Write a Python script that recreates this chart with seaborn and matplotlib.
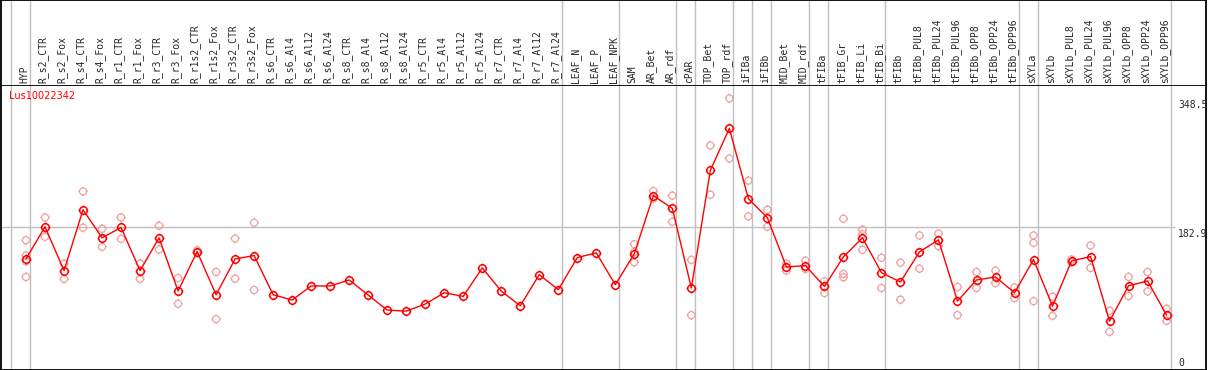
import numpy as np
import pandas as pd
import matplotlib
matplotlib.use("Agg")
import matplotlib.pyplot as plt
from matplotlib.path import Path
import seaborn as sns

gene = "Lus10022342"

categories = [
    "HYP", "R_s2_CTR", "R_s2_Fox", "R_s4_CTR", "R_s4_Fox", "R_r1_CTR", "R_r1_Fox",
    "R_r3_CTR", "R_r3_Fox", "R_r1s2_CTR", "R_r1s2_Fox", "R_r3s2_CTR", "R_r3s2_Fox",
    "R_s6_CTR", "R_s6_Al4", "R_s6_Al12", "R_s6_Al24", "R_s8_CTR", "R_s8_Al4",
    "R_s8_Al12", "R_s8_Al24", "R_r5_CTR", "R_r5_Al4", "R_r5_Al12", "R_r5_Al24",
    "R_r7_CTR", "R_r7_Al4", "R_r7_Al12", "R_r7_Al24", "LEAF_N", "LEAF_P", "LEAF_NPK",
    "SAM", "AR_Bet", "AR_rdf", "cPAR", "TOP_Bet", "TOP_rdf", "iFIBa", "iFIBb",
    "MID_Bet", "MID_rdf", "tFIBa", "tFIB_Gr", "tFIB_Li", "tFIB_Bi", "tFIBb",
    "tFIBb_PUL8", "tFIBb_PUL24", "tFIBb_PUL96", "tFIBb_OPP8", "tFIBb_OPP24",
    "tFIBb_OPP96", "sXYLa", "sXYLb", "sXYLb_PUL8", "sXYLb_PUL24", "sXYLb_PUL96",
    "sXYLb_OPP8", "sXYLb_OPP24", "sXYLb_OPP96",
]

means = [
    142.2, 183.5, 127.1, 205.4, 169.3, 182.6, 127.1, 169.3, 100.9, 151.6,
    96.1, 142.2, 146.5, 96.1, 89.3, 107.4, 107.4, 115.1, 95.7, 76.4,
    75.1, 84.1, 98.7, 94.0, 130.6, 100.9, 81.9, 121.9, 102.6, 143.9,
    149.9, 109.0, 149.0, 223.5, 207.1, 104.8, 256.1, 309.9, 219.6, 195.1,
    131.9, 133.5, 106.8, 144.8, 169.3, 124.5, 112.5, 151.2, 166.7, 88.0,
    115.1, 119.0, 98.7, 141.3, 81.5, 139.6, 145.2, 62.2, 107.7, 113.8, 69.9,
]

replicates = [
    [166.2, 146.5, 139.1, 119.0], [195.5, 170.6], [136.1, 116.4], [229.0, 182.2],
    [180.9, 157.7], [195.5, 168.0], [136.1, 116.4], [184.8, 154.2], [117.7, 84.5],
    [153.3, 150.0], [125.4, 64.8], [168.4, 116.8], [188.6, 102.2],
    [], [], [], [], [], [], [], [], [], [], [], [], [], [], [], [],
    [], [], [],
    [161.0, 151.2, 137.8], [229.4, 219.6], [223.5, 189.9], [140.9, 69.9],
    [288.0, 224.8], [348.5, 271.2], [242.8, 196.8], [205.4, 183.5],
    [136.1, 127.1], [140.0, 129.3], [113.3, 98.3], [193.8, 122.8, 118.5],
    [179.6, 174.0, 153.8], [143.5, 104.8], [137.4, 89.7],
    [172.3, 129.7], [174.8, 158.5], [106.1, 69.9], [125.4, 104.8], [127.1, 111.2],
    [105.5, 91.9], [172.3, 162.8, 88.0], [93.5, 69.0],
    [141.3, 138.0], [159.4, 130.6], [75.5, 48.4], [119.0, 94.5], [125.4, 100.4],
    [78.1, 62.6],
]

# first category of each boxed group, plus the end
group_starts = [0, 1, 29, 32, 35, 36, 38, 39, 40, 42, 43, 46, 53, 54, 61]

y_ticks = [0, 182.9, 348.5]

# ---- data frames
x = np.arange(len(categories))
df_mean = pd.DataFrame({"x": x, "value": means})
rep_x, rep_y = [], []
for i, vals in enumerate(replicates):
    for v in vals:
        rep_x.append(i)
        rep_y.append(v)
df_rep = pd.DataFrame({"x": rep_x, "value": rep_y})

sns.set_theme(style="white")
plt.rcParams["font.family"] = ["DejaVu Sans"]

# circle marker with four small ticks
circ = Path.unit_circle()
tl = 1.3
ticks = [Path([[0, 1], [0, tl]], [Path.MOVETO, Path.LINETO]),
         Path([[0, -1], [0, -tl]], [Path.MOVETO, Path.LINETO]),
         Path([[1, 0], [tl, 0]], [Path.MOVETO, Path.LINETO]),
         Path([[-1, 0], [-tl, 0]], [Path.MOVETO, Path.LINETO])]
gear = Path.make_compound_path(circ, *ticks)

W, H = 1209, 370
fig = plt.figure(figsize=(W / 100, H / 100), dpi=100)
header_h = 85
xlim = ((1 - 26) / 19.01, (1206 - 26) / 19.01)

ax = fig.add_axes([1 / W, 0, 1205 / W, (H - header_h) / H])
axh = fig.add_axes([1 / W, (H - header_h) / H, 1205 / W, header_h / H])

grid_c = "#c0c0c0"
for a in (ax, axh):
    a.set_xlim(*xlim)
    for g in group_starts:
        a.axvline(g - 0.79, color=grid_c, lw=1.0, zorder=0)
    a.set_xticks([])
    a.set_yticks([])
    for s in a.spines.values():
        s.set_color("black")
        s.set_linewidth(1.3)
axh.spines["bottom"].set_visible(False)

ax.set_ylim(-0.6, 365.7)
ax.hlines(182.9, xlim[0], 60.45, color=grid_c, lw=1.0, zorder=0)

sns.scatterplot(data=df_rep, x="x", y="value", ax=ax, marker=gear, s=44,
                facecolor="none", edgecolor="#f0a0a0", linewidth=0.9, zorder=2)
sns.lineplot(data=df_mean, x="x", y="value", ax=ax, color="red", lw=1.0,
             marker=gear, markersize=7.0, markerfacecolor="none",
             markeredgecolor="red", markeredgewidth=1.1, zorder=3)
ax.set_xlabel("")
ax.set_ylabel("")
ax.set_xlim(*xlim)

# y tick labels inside the right edge
tx = (1178 - 26) / 19.01
ax.text(tx, 348.5 - 2, "348.5", ha="left", va="top", fontsize=7, family="DejaVu Sans Mono")
ax.text(tx, 182.9 - 2, "182.9", ha="left", va="top", fontsize=7, family="DejaVu Sans Mono")
ax.text(tx, 2, "0", ha="left", va="bottom", fontsize=7, family="DejaVu Sans Mono")

ax.text((9 - 26) / 19.01, 352, gene, color="red", fontsize=7, ha="left", va="center")

# rotated category labels in the header
axh.set_ylim(header_h, 0)
for i, name in enumerate(categories):
    axh.text(i - 0.1, 83, name, rotation=90, ha="center", va="bottom",
             fontsize=7, family="DejaVu Sans Mono")

fig.savefig("out.png", dpi=100)
